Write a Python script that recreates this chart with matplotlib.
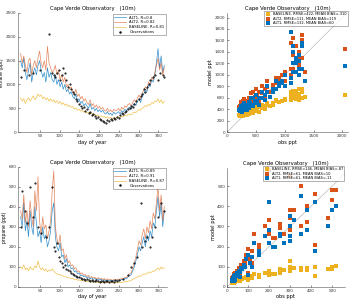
import numpy as np
import matplotlib
matplotlib.use('Agg')
import matplotlib.pyplot as plt

# Cape Verde Observatory, model vs observations (ethane top, propane bottom)
nan = np.nan
days = np.arange(1, 366, 4)   # sampled every 4 days

eth_alt1 = [1500,1350,1550,1250,1100,1300,1450,1050,1250,1350,1200,
            1400,1500,1300,1150,1250,1050,1350,1150,1250,1100,
            1050,1200,1000,1100,950,1050,900,1000,850,900,
            800,850,750,700,800,650,700,600,650,550,
            600,550,500,600,480,520,450,500,430,470,
            420,460,400,380,430,370,400,350,420,380,
            400,430,380,450,420,480,450,500,520,480,
            550,600,560,650,700,620,750,800,900,850,
            1000,950,1100,1050,1200,1450,1750,1350,1600,1250,1400]
eth_alt2 = [1650,1450,1600,1400,1250,1500,1550,1200,1400,1500,1350,
            1550,1700,1450,1350,1500,1300,1800,1450,1350,1250,
            1300,1400,1200,1300,1100,1200,1050,1150,950,1000,
            900,950,850,800,900,750,800,700,750,650,
            700,620,580,680,550,600,520,570,500,540,
            480,520,460,440,500,430,470,420,480,450,
            460,500,440,520,480,550,520,580,600,550,
            620,680,630,720,780,700,820,880,950,900,
            1050,1000,1150,1100,1250,1400,1550,1300,1450,1200,1350]
eth_base = [720,650,700,600,680,720,650,700,760,680,720,
            800,750,780,700,740,680,720,650,700,640,
            680,620,660,600,640,580,620,560,590,540,
            560,520,540,480,510,460,480,440,460,420,
            440,400,420,380,400,360,380,340,360,330,
            340,310,330,300,320,290,310,280,300,290,
            300,320,300,330,320,350,340,370,380,360,
            400,420,410,450,470,460,500,520,560,540,
            580,560,620,600,650,640,700,620,680,600,650]
eth_obs = [1150,nan,1300,nan,nan,1200,nan,nan,1250,nan,nan,
           nan,1300,nan,nan,nan,nan,nan,2050,nan,1250,
           1200,1150,1250,1300,1100,1200,1350,1250,1100,950,
           1000,900,850,800,700,650,600,550,500,520,
           450,480,400,420,350,380,330,300,320,280,
           260,240,220,200,250,230,280,260,300,270,
           320,300,350,400,380,420,450,480,500,550,
           520,600,650,nan,700,750,800,900,850,950,
           1000,1100,nan,1150,1200,nan,1100,1250,nan,1200,1150]

pro_alt1 = [350,300,420,280,330,250,380,300,260,400,320,
            250,280,220,300,240,260,200,230,280,380,
            420,250,200,180,220,150,160,120,140,100,
            110,90,95,75,80,65,70,55,60,50,
            55,45,50,40,45,38,42,35,40,35,
            38,32,36,30,34,30,33,28,32,30,
            32,35,30,38,36,42,40,50,55,60,
            80,100,130,160,200,180,220,250,200,260,
            230,280,250,320,300,380,450,350,420,300,380]
pro_alt2 = [380,340,460,320,380,300,430,350,300,480,380,
            550,330,260,350,290,310,240,280,330,480,
            580,300,240,210,260,180,190,140,160,120,
            130,105,110,90,95,75,80,65,70,58,
            62,52,58,46,52,44,48,40,46,40,
            44,36,42,34,40,35,38,32,37,34,
            36,40,35,44,42,48,46,58,65,70,
            95,120,150,190,230,210,260,290,240,300,
            270,330,290,370,340,420,500,380,460,330,400]
pro_base = [100,90,110,85,95,80,100,90,85,105,95,
            130,100,85,95,80,90,75,85,80,90,
            80,70,65,60,62,55,55,50,50,45,
            45,40,42,36,38,33,35,30,32,28,
            30,26,28,24,26,23,25,22,24,22,
            23,20,22,20,22,20,21,19,21,20,
            21,22,20,24,23,26,25,28,30,32,
            38,42,45,50,55,52,60,65,62,70,
            68,75,72,80,78,88,95,85,100,90,95]
pro_obs = [300,480,nan,380,320,nan,500,nan,350,520,nan,
           300,nan,270,nan,nan,250,nan,300,nan,500,
           200,180,220,150,130,120,100,110,90,85,
           80,70,65,60,55,50,48,45,40,38,
           35,38,32,30,34,30,28,32,28,26,
           30,28,25,30,27,24,28,30,26,32,
           30,35,nan,nan,40,nan,nan,60,nan,100,
           nan,120,nan,150,nan,420,200,nan,230,250,
           nan,200,250,nan,300,nan,350,nan,420,nan,380]

eth_r = ['ALT1, R=0.8', 'ALT2, R=0.82', 'BASELINE, R=0.81']
pro_r = ['ALT1, R=0.89', 'ALT2, R=0.91', 'BASELINE, R=0.87']
eth_stats = ['BASELINE, RMSE=422, MEAN BIAS=-310', 'ALT2, RMSE=111, MEAN BIAS=119',
             'ALT1, RMSE=132, MEAN BIAS=60']
pro_stats = ['BASELINE, RMSE=146, MEAN BIAS=-87', 'ALT2, RMSE=61, MEAN BIAS=10',
             'ALT1, RMSE=61, MEAN BIAS=-11']

blue = '#0072BD'
orange = '#D95319'
yellow = '#EDB120'
title = 'Cape Verde Observatory   (10m)'
fs = 3.0

plt.rcParams['font.family'] = 'DejaVu Sans'
fig = plt.figure(figsize=(3.51, 3.01), dpi=100)


def style(ax):
    ax.spines['top'].set_visible(False)
    ax.spines['right'].set_visible(False)
    for s in ['left', 'bottom']:
        ax.spines[s].set_linewidth(0.4)
        ax.spines[s].set_color('#555555')
    ax.tick_params(labelsize=fs, length=1.5, width=0.4, direction='in', pad=1.5, colors='#333333')


def timeseries(rect, alt1, alt2, base, obs, labels, ylabel, ylim, yticks):
    ax = fig.add_axes(rect)
    ax.plot(days, alt1, color=blue, lw=0.5, alpha=0.8, label=labels[0])
    ax.plot(days, alt2, color=orange, lw=0.5, alpha=0.7, label=labels[1])
    ax.plot(days, base, color=yellow, lw=0.5, alpha=0.8, label=labels[2])
    ax.plot(days, obs, '.', color='black', ms=1.0, label='Observations')
    ax.set_xlim(-5, 372)
    ax.set_ylim(*ylim)
    ax.set_xticks([50, 100, 150, 200, 250, 300, 350])
    ax.set_yticks(yticks)
    ax.set_xlabel('day of year', fontsize=3.6, labelpad=1)
    ax.set_ylabel(ylabel, fontsize=3.3, labelpad=1)
    ax.set_title(title, fontsize=3.8, pad=2)
    style(ax)
    leg = ax.legend(loc='upper right', fontsize=2.7, frameon=True, fancybox=False,
                    borderpad=0.4, labelspacing=0.2, handlelength=3.2, borderaxespad=0.3,
                    markerscale=1.5)
    leg.get_frame().set_linewidth(0.4)
    leg.get_frame().set_edgecolor('#555555')
    return ax


def scatter(rect, alt1, alt2, base, obs, labels, lim, xlim, ylim, ticks):
    ax = fig.add_axes(rect)
    obs = np.array(obs, dtype=float)
    ok = ~np.isnan(obs)
    ax.plot(lim, lim, color='#bbbbbb', lw=0.5, zorder=1)
    ax.scatter(obs[ok], np.array(base)[ok], s=5, marker='s', color=yellow, lw=0, label=labels[0], zorder=2)
    ax.scatter(obs[ok], np.array(alt2)[ok], s=5, marker='s', color=orange, lw=0, label=labels[1], zorder=3)
    ax.scatter(obs[ok], np.array(alt1)[ok], s=5, marker='s', color=blue, lw=0, label=labels[2], zorder=4)
    ax.set_xlim(*xlim)
    ax.set_ylim(*ylim)
    ax.set_xticks(ticks[0])
    ax.set_yticks(ticks[1])
    ax.set_xlabel('obs ppt', fontsize=3.6, labelpad=1)
    ax.set_ylabel('model ppt', fontsize=3.6, labelpad=1)
    ax.set_title(title, fontsize=3.8, pad=2)
    style(ax)
    leg = ax.legend(loc='upper right', fontsize=2.6, frameon=True, fancybox=False,
                    borderpad=0.3, labelspacing=0.15, handletextpad=0.3, borderaxespad=0.1,
                    markerscale=1.0, bbox_to_anchor=(1.0, 1.02))
    leg.get_frame().set_linewidth(0.4)
    leg.get_frame().set_edgecolor('#555555')
    return ax


timeseries([0.052, 0.561, 0.424, 0.396], eth_alt1, eth_alt2, eth_base, eth_obs, eth_r,
           'ethane (ppt)', (0, 2500), [0, 500, 1000, 1500, 2000, 2500])
timeseries([0.052, 0.047, 0.424, 0.399], pro_alt1, pro_alt2, pro_base, pro_obs, pro_r,
           'propane (ppt)', (0, 600), [0, 100, 200, 300, 400, 500, 600])
scatter([0.647, 0.561, 0.345, 0.396], eth_alt1, eth_alt2, eth_base, eth_obs, eth_stats,
        [0, 2200], (0, 2100), (0, 2080),
        ([0, 500, 1000, 1500, 2000], list(range(0, 2001, 200))))
scatter([0.647, 0.047, 0.335, 0.395], pro_alt1, pro_alt2, pro_base, pro_obs, pro_stats,
        [0, 600], (0, 560), (0, 590),
        ([0, 100, 200, 300, 400, 500], [0, 100, 200, 300, 400, 500]))

fig.savefig('out.png', dpi=100)
